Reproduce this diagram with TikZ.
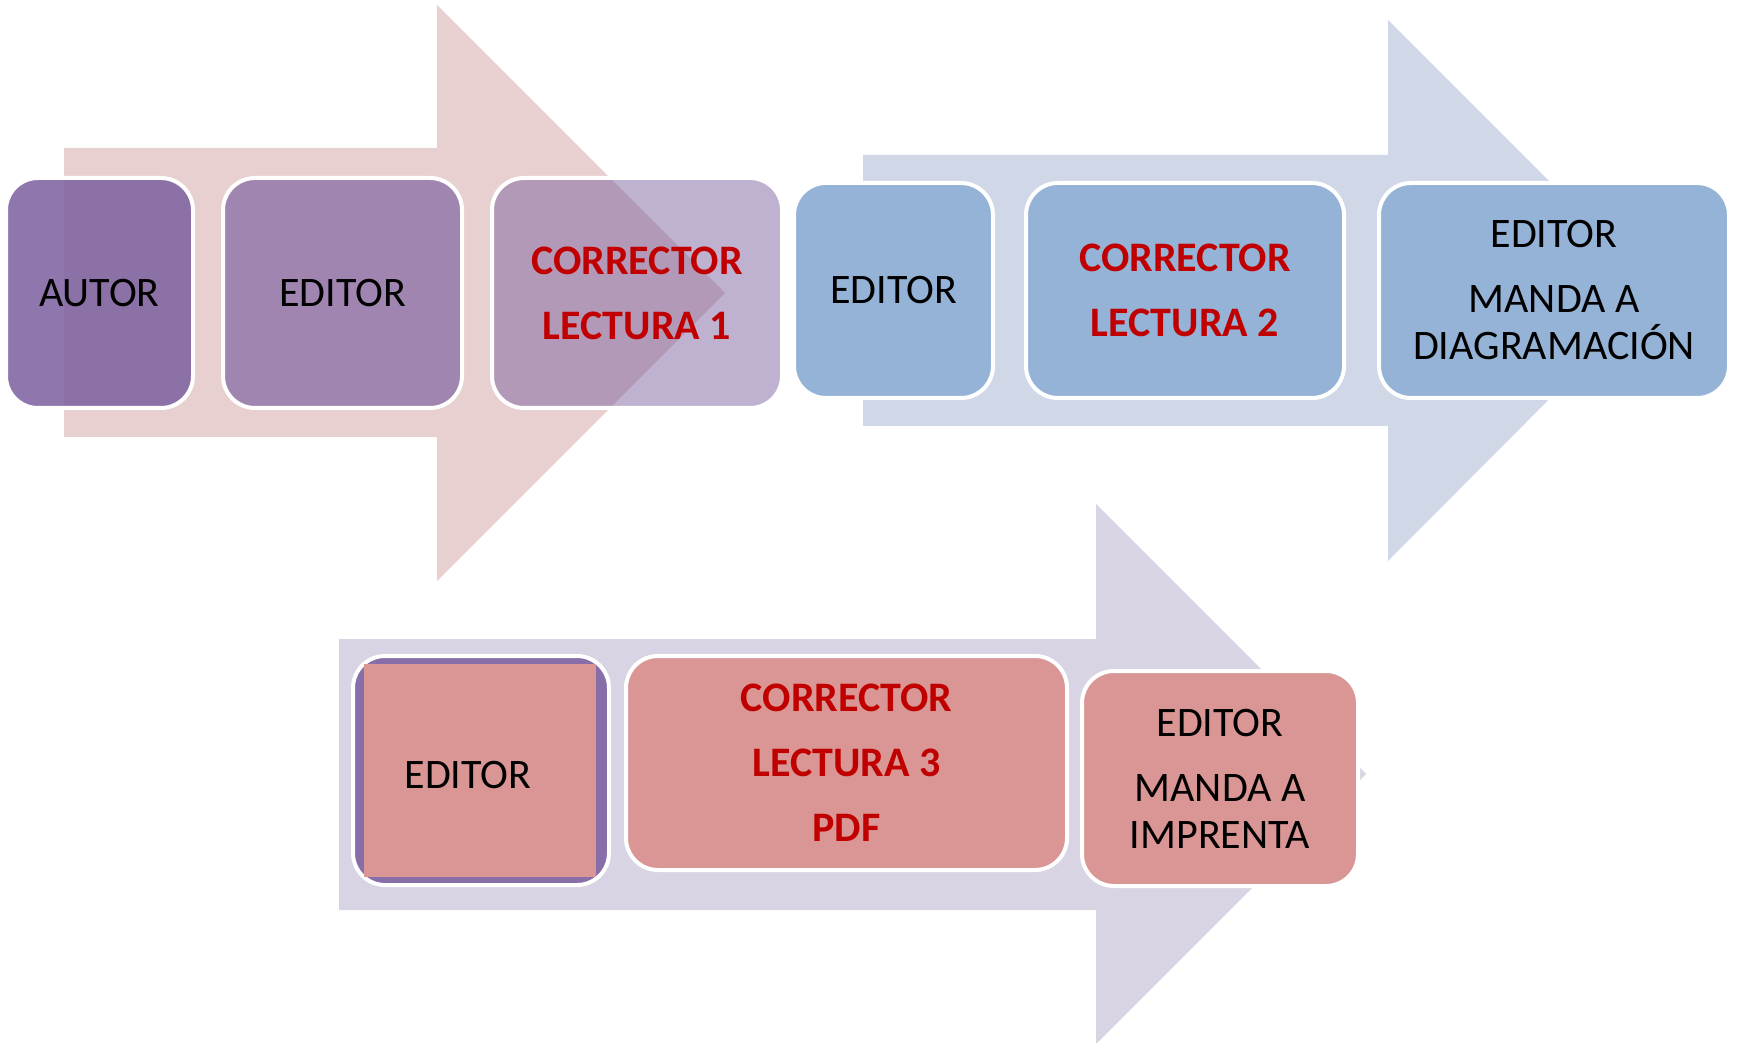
\documentclass[tikz,border=0pt]{standalone}
\usepackage{fontspec}
\setmainfont{Carlito}
\usepackage{tikz}
\definecolor{arrowpink}{HTML}{E8D0D0}
\definecolor{arrowblue}{HTML}{D0D8E8}
\definecolor{arrowlilac}{HTML}{D8D4E3}
\definecolor{boxpurple}{HTML}{8064A2}
\definecolor{boxblue}{HTML}{95B3D7}
\definecolor{boxrose}{HTML}{D99694}
\definecolor{textred}{HTML}{C00000}
\tikzstyle{stage}=[rectangle, rounded corners=16pt, draw=white, line width=2pt, inner sep=0pt, align=center, text opacity=1, font=\fontsize{21}{23.5}\selectfont]
\tikzstyle{hot}=[text=textred, font=\bfseries\fontsize{21}{23.5}\selectfont]

\begin{document}
\begin{tikzpicture}[x=0.5pt, y=-0.5pt]
                    \useasboundingbox (0,0) rectangle (1737,1043);
                    \fill[arrowpink] (64,148) -- (437,148) -- (437,5) -- (725,293) -- (437,581) -- (437,437) -- (64,437) -- cycle;
                    \fill[arrowblue] (863,155) -- (1388,155) -- (1388,20) -- (1658,290) -- (1388,561) -- (1388,426) -- (863,426) -- cycle;
                    \fill[arrowlilac] (339,639) -- (1096,639) -- (1096,504) -- (1366,774) -- (1096,1044) -- (1096,910) -- (339,910) -- cycle;
                    \node[stage, fill=boxpurple, fill opacity=0.88, minimum width=93.5pt, minimum height=115pt] (autor) at (99.5,293) {AUTOR};
                    \node[stage, fill=boxpurple, fill opacity=0.69, minimum width=119.5pt, minimum height=115pt] (editor1) at (342.5,293) {EDITOR};
                    \node[stage, hot, fill=boxpurple, fill opacity=0.5, minimum width=145pt, minimum height=115pt] (lectura1) at (637,293) {CORRECTOR\\[9pt]LECTURA 1};
                    \node[stage, fill=boxblue, minimum width=99.5pt, minimum height=107.5pt] (editor2) at (893.5,290.5) {EDITOR};
                    \node[stage, hot, fill=boxblue, minimum width=159pt, minimum height=107.5pt] (lectura2) at (1185,290.5) {CORRECTOR\\[9pt]LECTURA 2};
                    \node[stage, fill=boxblue, minimum width=175pt, minimum height=107.5pt] (diagram) at (1554,290.5) {EDITOR\\[9pt]MANDA A\\DIAGRAMACIÓN};
                    \node[stage, fill=boxpurple, fill opacity=0.9, minimum width=128pt, minimum height=114.5pt] (editor3) at (481,770.5) {};
                    \node[rectangle, fill=boxrose, inner sep=0pt, minimum width=115.75pt, minimum height=106.5pt, text height=18pt, text depth=0pt, font=\fontsize{21}{23.5}\selectfont] (editor3top) at (480,770.5) {EDITOR\hspace*{12pt}};
                    \node[stage, hot, fill=boxrose, minimum width=220.5pt, minimum height=107pt] (lectura3) at (846.5,763) {CORRECTOR\\[9pt]LECTURA 3\\[9pt]PDF};
                    \node[stage, fill=boxrose, minimum width=138pt, minimum height=107.5pt] (imprenta) at (1220,778.5) {EDITOR\\[9pt]MANDA A\\IMPRENTA};
                \end{tikzpicture}
\end{document}
